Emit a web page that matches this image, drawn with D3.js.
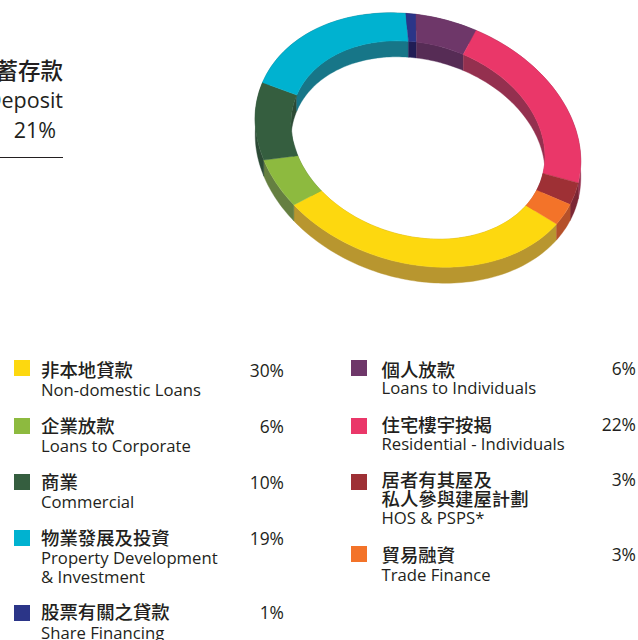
<!DOCTYPE html>
<html>
<head>
<meta charset="utf-8">
<script src="https://cdn.jsdelivr.net/npm/d3@7/dist/d3.min.js"></script>
<style>
html,body{margin:0;padding:0;background:#fff;overflow:hidden}
svg{display:block}
text{fill:#231f20}
.cn{font-family:"Noto Sans CJK TC","Noto Sans CJK SC",sans-serif;font-weight:500}
.en{font-family:"Open Sans","Noto Sans",sans-serif}
</style>
</head>
<body>
<svg id="c" width="638" height="640"></svg>
<script>
// ---- data ----
const namesZh = ["非本地貸款","企業放款","商業","物業發展及投資","股票有關之貸款","個人放款","住宅樓宇按揭","居者有其屋及\n私人參與建屋計劃","貿易融資"];
const namesEn = ["Non-domestic Loans","Loans to Corporate","Commercial","Property Development\n& Investment","Share Financing","Loans to Individuals","Residential - Individuals","HOS & PSPS*","Trade Finance"];
const shares = [30,6,10,19,1,6,22,3,3];
const topColors = ["#fdd80f","#8dba3f","#355e3f","#00b2d0","#2b3588","#6e3769","#ea3769","#9e3035","#f37329"];
const wallColors = ["#b8962f","#657f41","#2c4a35","#177688","#211d55","#562c55","#94304f","#7c2735","#b5512a"];
const depositZh = "儲蓄存款", depositEn = "Deposit", depositShare = 21;

// ---- layout ----
const svg = d3.select("#c");
const cx = 418, cy = 140, rx = 166, ry = 123, tilt = 16.9, innerRatio = 0.78, depth = 16;
const startDeg = 109;
const phi = tilt * Math.PI / 180;

const pie = d3.pie().sort(null).value(d => d)
  .startAngle(startDeg * Math.PI / 180)
  .endAngle((startDeg + 360) * Math.PI / 180);
const slices = pie(shares);

// ring projected from the unit circle onto a tilted ellipse
function project(theta, r, dy) {
  const u = Math.sin(theta) * r * rx, v = -Math.cos(theta) * r * ry;
  return [cx + u * Math.cos(phi) - v * Math.sin(phi),
          cy + u * Math.sin(phi) + v * Math.cos(phi) + dy];
}
const line = d3.line();
function wallPath(s, r) {
  const n = Math.max(4, Math.ceil((s.endAngle - s.startAngle) * 40));
  const ts = d3.range(n + 1).map(i => s.startAngle + (s.endAngle - s.startAngle) * i / n);
  const pts = ts.map(t => project(t, r, 0)).concat(ts.slice().reverse().map(t => project(t, r, depth)));
  return line(pts) + "Z";
}

const ring = svg.append("g");
ring.selectAll("path.inner").data(slices).join("path").attr("class", "inner")
  .attr("d", d => wallPath(d, innerRatio)).attr("fill", (d, i) => wallColors[i])
  .attr("stroke", (d, i) => wallColors[i]).attr("stroke-width", 0.4);
ring.selectAll("path.outer").data(slices).join("path").attr("class", "outer")
  .attr("d", d => wallPath(d, 1)).attr("fill", (d, i) => wallColors[i])
  .attr("stroke", (d, i) => wallColors[i]).attr("stroke-width", 0.4);

const arc = d3.arc().innerRadius(innerRatio).outerRadius(1);
ring.selectAll("path.top").data(slices).join("path").attr("class", "top")
  .attr("d", arc)
  .attr("transform", `matrix(${rx*Math.cos(phi)} ${rx*Math.sin(phi)} ${-ry*Math.sin(phi)} ${ry*Math.cos(phi)} ${cx} ${cy})`)
  .attr("fill", (d, i) => topColors[i])
  .attr("stroke", (d, i) => topColors[i]).attr("stroke-width", 0.4).attr("vector-effect", "non-scaling-stroke");

// ---- deposit label ----
const dep = svg.append("g");
dep.append("text").attr("class", "cn").attr("x", 63).attr("y", 79).attr("text-anchor", "end").attr("font-size", 22.5).text(depositZh);
dep.append("text").attr("class", "en").attr("x", 63).attr("y", 108).attr("text-anchor", "end").attr("font-size", 21.5).text(depositEn);
dep.append("text").attr("class", "en").attr("x", 56).attr("y", 138).attr("text-anchor", "end").attr("font-size", 21.5).text(depositShare + "%");
dep.append("line").attr("x1", 0).attr("x2", 63).attr("y1", 157.5).attr("y2", 157.5).attr("stroke", "#231f20").attr("stroke-width", 1);

// ---- legend ----
const legendX = [14,14,14,14,14,351,351,351,351];
const swatchY = [360,418,474,530,605,360,418,474,546];
const zhY = [377,433,489,545,619,377,432,487,562];
const enY = [396,452,508,564,638.7,394,450,524,581];
const pctY = [377,433,489,545,619,375,431,486,561];
const pctX = [284,284,284,284,284,636,636,636,636];
const lineStepZh = 19, lineStepEn = 18.7;

const rows = svg.append("g").selectAll("g").data(shares).join("g");
rows.append("rect").attr("x", (d,i) => legendX[i]).attr("y", (d,i) => swatchY[i]).attr("width", 16).attr("height", 16).attr("fill", (d,i) => topColors[i]);
rows.each(function(d, i) {
  const g = d3.select(this), tx = legendX[i] + 27 + (i > 4 ? 3.5 : 0);
  namesZh[i].split("\n").forEach((s, k) => g.append("text").attr("class", "cn").attr("x", tx).attr("y", zhY[i] + k * lineStepZh).attr("font-size", 18.4).text(s));
  namesEn[i].split("\n").forEach((s, k) => g.append("text").attr("class", "en").attr("x", tx).attr("y", enY[i] + k * lineStepEn).attr("font-size", 16.7).text(s));
  g.append("text").attr("class", "en").attr("x", pctX[i]).attr("y", pctY[i]).attr("text-anchor", "end").attr("font-size", 17.4).text(d + "%");
});
</script>
</body>
</html>
